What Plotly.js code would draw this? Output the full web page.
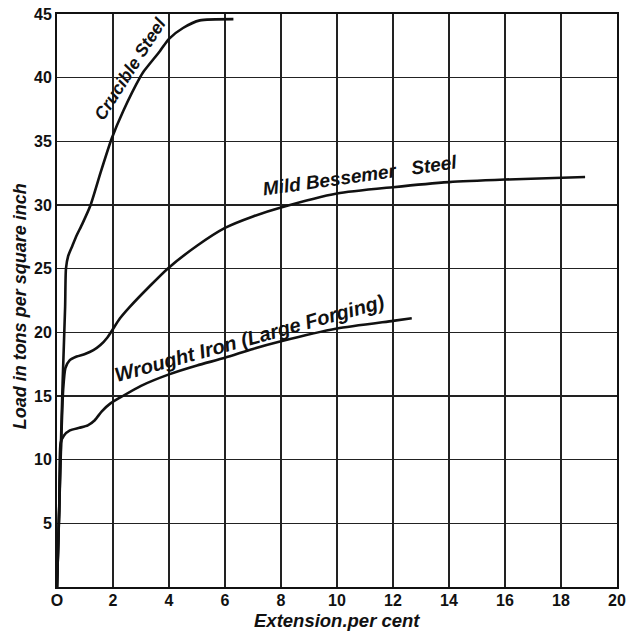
<!DOCTYPE html>
<html>
<head>
<meta charset="utf-8">
<script src="https://cdn.plot.ly/plotly-3.0.1.min.js"></script>
<style>html,body{margin:0;padding:0;background:#fff;}#chart{width:636px;height:631px;}</style>
</head>
<body>
<div id="chart"></div>
<script>
// Crucible Steel
const crucibleX = [0, 0.1, 0.2, 0.29, 0.32, 0.4, 0.55, 0.7, 0.9, 1.2, 1.55, 1.95, 2.37, 2.96, 3.1, 3.68, 4.0, 4.5, 5.1, 6.3];
const crucibleY = [0, 8, 16, 22, 25, 26, 26.8, 27.6, 28.5, 30, 32.5, 35.2, 37.4, 40, 40.5, 42.1, 43.05, 43.9, 44.5, 44.6];
// Mild Bessemer Steel
const mildX = [0, 0.13, 0.22, 0.3, 0.45, 0.7, 1.0, 1.3, 1.55, 1.8, 2.25, 2.6, 3.3, 3.95, 5, 6, 7, 8, 10, 12, 14, 16, 18.86];
const mildY = [0, 10, 15.5, 17.2, 17.8, 18.1, 18.3, 18.6, 19.0, 19.6, 21.1, 22.0, 23.6, 25.0, 26.8, 28.2, 29.1, 29.8, 30.9, 31.4, 31.8, 32.0, 32.2];
// Wrought Iron (Large Forging)
const wroughtX = [0, 0.08, 0.13, 0.25, 0.46, 0.8, 1.1, 1.35, 1.6, 1.9, 2.35, 3, 4, 5, 6, 7, 8, 10, 12, 12.67];
const wroughtY = [0, 6, 11.3, 11.9, 12.3, 12.5, 12.7, 13.1, 13.8, 14.4, 15, 15.8, 16.7, 17.4, 18.0, 18.7, 19.3, 20.3, 20.9, 21.1];

const xTicks = [0, 2, 4, 6, 8, 10, 12, 14, 16, 18, 20];
const yTicks = [5, 10, 15, 20, 25, 30, 35, 40, 45];
const xTickLabels = ['O', '2', '4', '6', '8', '10', '12', '14', '16', '18', '20'];
const yTickLabels = ['5', '10', '15', '20', '25', '30', '35', '40', '45'];

const lineStyle = {color: '#111', width: 2.6, shape: 'spline', smoothing: 0.6};
const traces = [
  {x: crucibleX, y: crucibleY, mode: 'lines', line: lineStyle, hoverinfo: 'skip'},
  {x: mildX, y: mildY, mode: 'lines', line: lineStyle, hoverinfo: 'skip'},
  {x: wroughtX, y: wroughtY, mode: 'lines', line: lineStyle, hoverinfo: 'skip'}
];

const FAM = 'Liberation Sans, Arial, sans-serif';
const lab = s => ({family: FAM, size: s, color: '#111', weight: 'bold', style: 'italic'});
const layout = {
  width: 636, height: 631,
  margin: {l: 57, r: 19, t: 14, b: 44},
  paper_bgcolor: '#fff', plot_bgcolor: '#fff',
  showlegend: false,
  xaxis: {
    range: [0, 20], tickvals: xTicks, ticktext: xTickLabels,
    showgrid: true, gridcolor: '#222', gridwidth: 1.5,
    showline: true, linecolor: '#111', linewidth: 2, mirror: true,
    zeroline: false, ticks: '', ticklabelstandoff: -2,
    tickfont: {family: FAM, size: 16, color: '#111', weight: 'bold'}
  },
  yaxis: {
    range: [0, 45], tickvals: yTicks, ticktext: yTickLabels,
    showgrid: true, gridcolor: '#222', gridwidth: 1.5,
    showline: true, linecolor: '#111', linewidth: 2, mirror: true,
    zeroline: false, ticks: '',
    tickfont: {family: FAM, size: 16, color: '#111', weight: 'bold'}
  },
  annotations: [
    {x: 2.81, y: 40.4, text: 'Crucible Steel', showarrow: false, textangle: -57.5, xshift: -6, yshift: 4, font: lab(17.5)},
    {x: 10.82, y: 31.9, text: 'Mild Bessemer&nbsp;&nbsp;&nbsp;Steel', showarrow: false, textangle: -8, yshift: 5, font: lab(19)},
    {x: 6.89, y: 19.2, text: 'Wrought Iron (Large Forging)', showarrow: false, textangle: -15.5, yshift: 5, font: lab(20)},
    {x: 10, xref: 'x', y: 0, yref: 'paper', yanchor: 'middle', yshift: -33, text: 'Extension.per cent', showarrow: false, font: lab(18.5)},
    {x: 0, xref: 'paper', y: 22.04, yref: 'y', xanchor: 'center', xshift: -37, text: 'Load in tons per square inch', textangle: -90, showarrow: false, font: lab(18)}
  ]
};

Plotly.newPlot('chart', traces, layout, {displayModeBar: false, staticPlot: true});
</script>
</body>
</html>
